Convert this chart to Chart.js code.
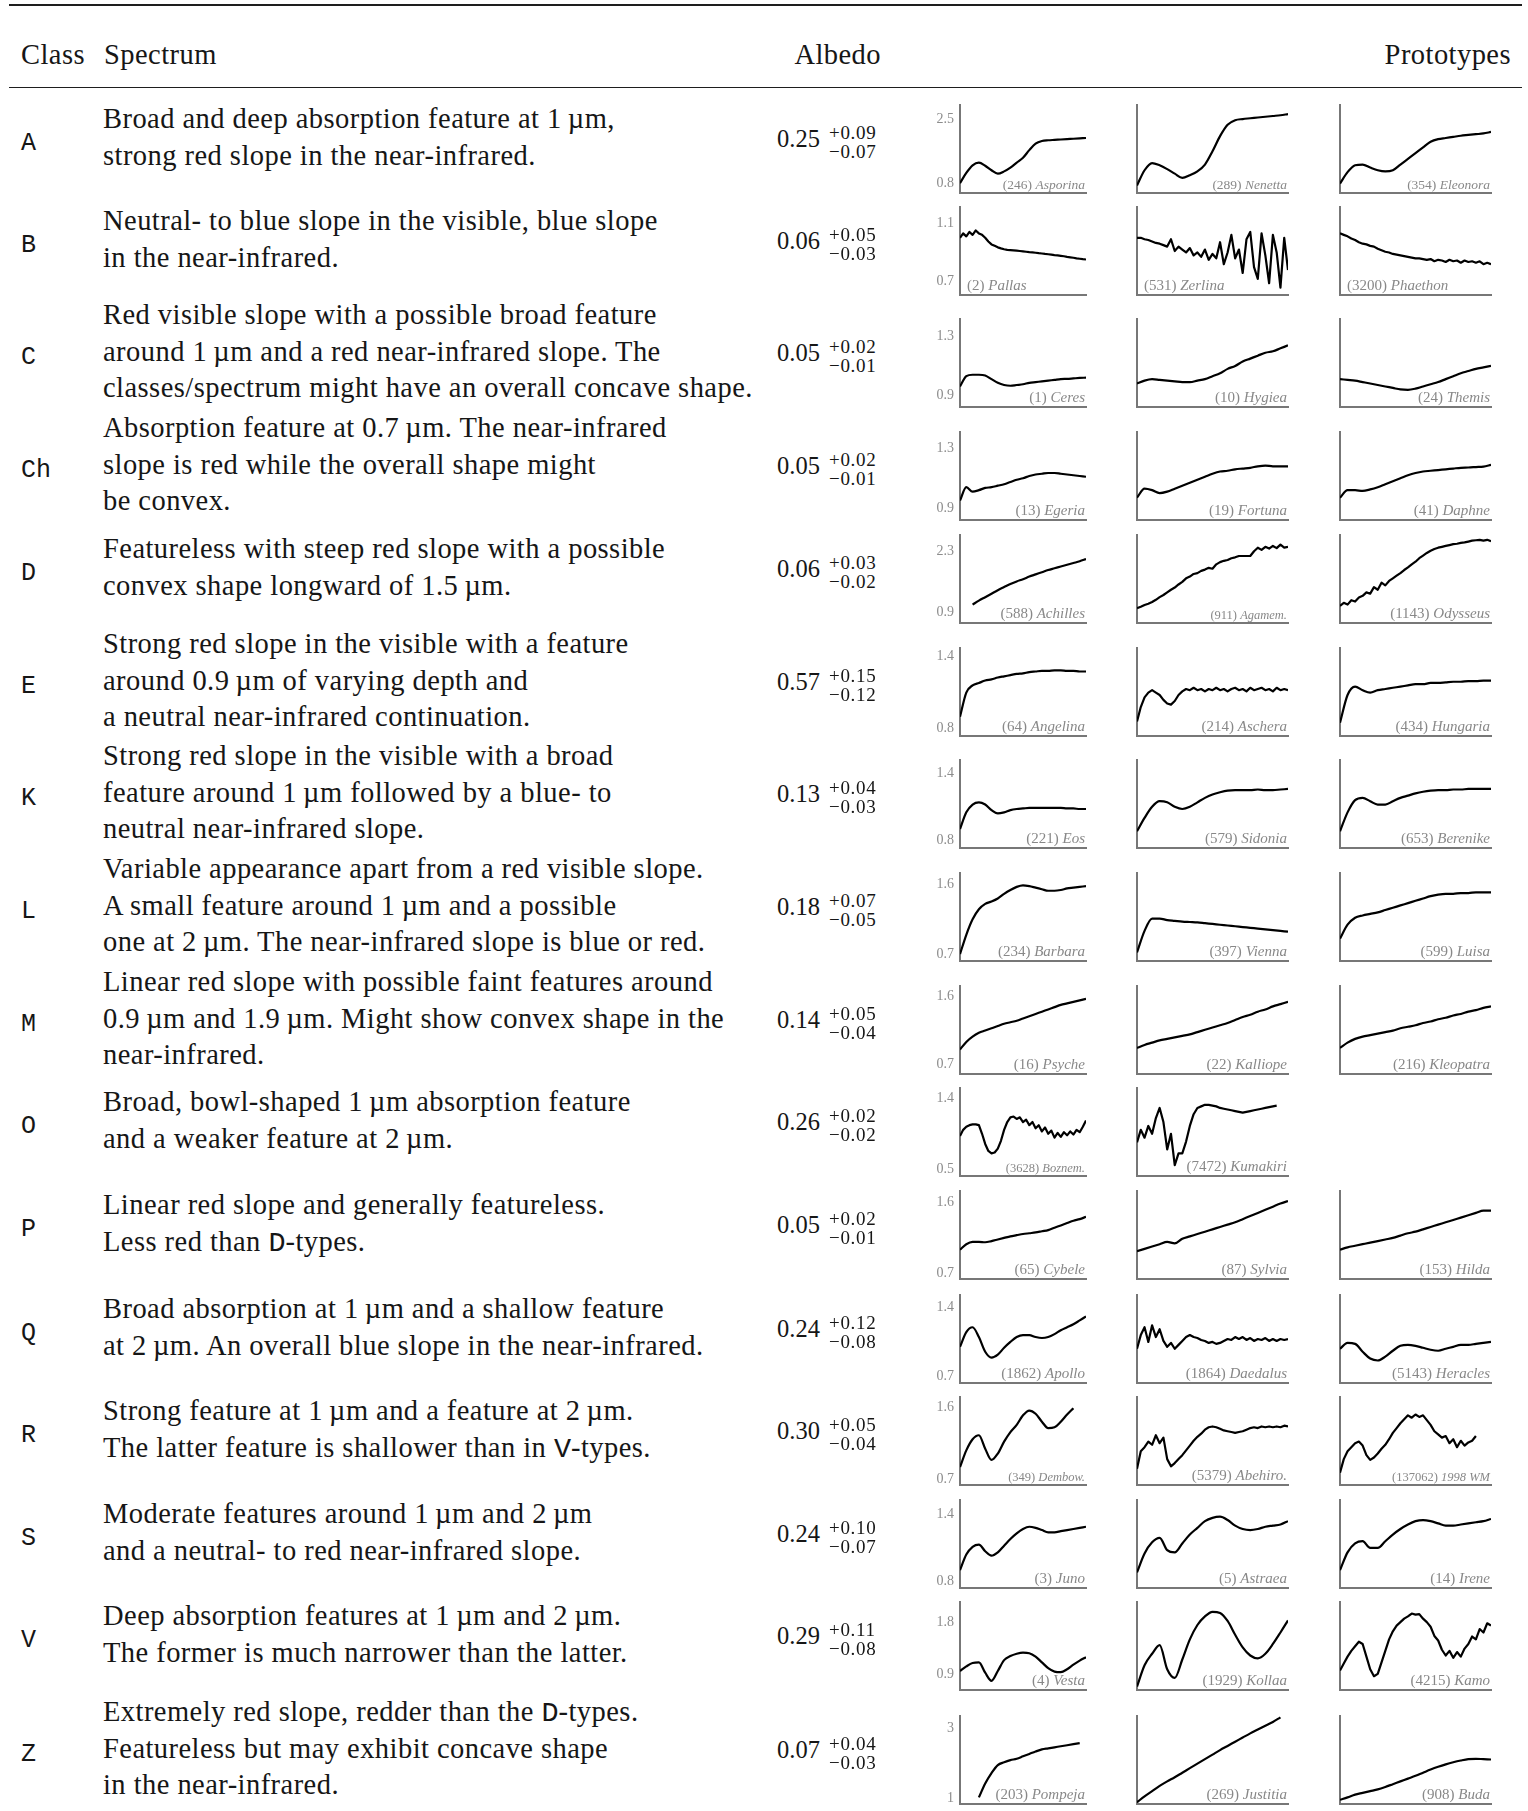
<!DOCTYPE html>
<html>
<head>
<meta charset="utf-8">
<script src="https://cdn.jsdelivr.net/npm/chart.js@4.4.1/dist/chart.umd.min.js"></script>
<style>
  body { margin: 0; background: #fff; width: 1528px; height: 1811px; position: relative; overflow: hidden;
         font-family: "Liberation Serif", serif; color: #161616; }
  .t { position: absolute; white-space: nowrap; line-height: 1; }
  .txt { letter-spacing: 0.45px; }
  .scr { letter-spacing: 0.7px; }
  .mono { font-family: "Liberation Mono", monospace; letter-spacing: 0; }
  .rule { position: absolute; left: 9px; width: 1513px; background: #1e1e1e; }
  canvas { position: absolute; }
  .nm { position: absolute; white-space: nowrap; line-height: 1; color: #888; }
</style>
</head>
<body>
<div class="rule" style="top:4px;height:2.4px"></div>
<div class="rule" style="top:87px;height:1.4px"></div>
<script>
// table content
const classNames = ['A', 'B', 'C', 'Ch', 'D', 'E', 'K', 'L', 'M', 'O', 'P', 'Q', 'R', 'S', 'V', 'Z'];
const descriptions = [
  ['Broad and deep absorption feature at 1\u2009µm,', 'strong red slope in the near-infrared.'],
  ['Neutral- to blue slope in the visible, blue slope', 'in the near-infrared.'],
  ['Red visible slope with a possible broad feature', 'around 1\u2009µm and a red near-infrared slope. The', 'classes/spectrum might have an overall concave shape.'],
  ['Absorption feature at 0.7\u2009µm. The near-infrared', 'slope is red while the overall shape might', 'be convex.'],
  ['Featureless with steep red slope with a possible', 'convex shape longward of 1.5\u2009µm.'],
  ['Strong red slope in the visible with a feature', 'around 0.9\u2009µm of varying depth and', 'a neutral near-infrared continuation.'],
  ['Strong red slope in the visible with a broad', 'feature around 1\u2009µm followed by a blue- to', 'neutral near-infrared slope.'],
  ['Variable appearance apart from a red visible slope.', 'A small feature around 1\u2009µm and a possible', 'one at 2\u2009µm. The near-infrared slope is blue or red.'],
  ['Linear red slope with possible faint features around', '0.9\u2009µm and 1.9\u2009µm. Might show convex shape in the', 'near-infrared.'],
  ['Broad, bowl-shaped 1\u2009µm absorption feature', 'and a weaker feature at 2\u2009µm.'],
  ['Linear red slope and generally featureless.', 'Less red than <span class="mono">D</span>-types.'],
  ['Broad absorption at 1\u2009µm and a shallow feature', 'at 2\u2009µm. An overall blue slope in the near-infrared.'],
  ['Strong feature at 1\u2009µm and a feature at 2\u2009µm.', 'The latter feature is shallower than in <span class="mono">V</span>-types.'],
  ['Moderate features around 1\u2009µm and 2\u2009µm', 'and a neutral- to red near-infrared slope.'],
  ['Deep absorption features at 1\u2009µm and 2\u2009µm.', 'The former is much narrower than the latter.'],
  ['Extremely red slope, redder than the <span class="mono">D</span>-types.', 'Featureless but may exhibit concave shape', 'in the near-infrared.']
];
const albedoValues = ['0.25', '0.06', '0.05', '0.05', '0.06', '0.57', '0.13', '0.18', '0.14', '0.26', '0.05', '0.24', '0.30', '0.24', '0.29', '0.07'];
const albedoPlus = ['+0.09', '+0.05', '+0.02', '+0.02', '+0.03', '+0.15', '+0.04', '+0.07', '+0.05', '+0.02', '+0.02', '+0.12', '+0.05', '+0.10', '+0.11', '+0.04'];
const albedoMinus = ['\u22120.07', '\u22120.03', '\u22120.01', '\u22120.01', '\u22120.02', '\u22120.12', '\u22120.03', '\u22120.05', '\u22120.04', '\u22120.02', '\u22120.01', '\u22120.08', '\u22120.04', '\u22120.07', '\u22120.08', '\u22120.03'];

// reflectance axes, one per row
const tickLow = [0.8, 0.7, 0.9, 0.9, 0.9, 0.8, 0.8, 0.7, 0.7, 0.5, 0.7, 0.7, 0.7, 0.8, 0.9, 1];
const tickHigh = [2.5, 1.1, 1.3, 1.3, 2.3, 1.4, 1.4, 1.6, 1.6, 1.4, 1.6, 1.4, 1.6, 1.4, 1.8, 3];
const tickLowText = ['0.8', '0.7', '0.9', '0.9', '0.9', '0.8', '0.8', '0.7', '0.7', '0.5', '0.7', '0.7', '0.7', '0.8', '0.9', '1'];
const tickHighText = ['2.5', '1.1', '1.3', '1.3', '2.3', '1.4', '1.4', '1.6', '1.6', '1.4', '1.6', '1.4', '1.6', '1.4', '1.8', '3'];
const axisMin = [0.55, 0.61, 0.82, 0.82, 0.66, 0.74, 0.73, 0.61, 0.575, 0.41, 0.625, 0.63, 0.625, 0.74, 0.62, 0.83];
const axisMax = [2.87, 1.21, 1.42, 1.41, 2.67, 1.47, 1.52, 1.75, 1.74, 1.535, 1.75, 1.53, 1.73, 1.53, 2.15, 3.36];

// wavelength grids (µm)
const waveCoarse = [0.45, 0.55, 0.65, 0.75, 0.85, 0.95, 1.05, 1.15, 1.25, 1.35, 1.45, 1.55, 1.65, 1.75, 1.85, 1.95, 2.05, 2.15, 2.25, 2.35, 2.45];
const waveFine = [0.45, 0.50, 0.55, 0.60, 0.65, 0.70, 0.75, 0.80, 0.85, 0.90, 0.95, 1.00, 1.05, 1.10, 1.15, 1.20, 1.25, 1.30, 1.35, 1.40, 1.45,
                  1.50, 1.55, 1.60, 1.65, 1.70, 1.75, 1.80, 1.85, 1.90, 1.95, 2.00, 2.05, 2.10, 2.15, 2.20, 2.25, 2.30, 2.35, 2.40, 2.45];

// spectra
const asporina = [0.81, 1.08, 1.28, 1.35, 1.27, 1.15, 1.06, 1.12, 1.22, 1.35, 1.48, 1.68, 1.85, 1.92, 1.94, 1.95, 1.96, 1.97, 1.98, 1.99, 2.0];
const nenetta = [0.75, 1.15, 1.34, 1.28, 1.18, 1.06, 0.95, 1.02, 1.12, 1.3, 1.65, 2.05, 2.35, 2.47, 2.5, 2.52, 2.54, 2.56, 2.58, 2.6, 2.63];
const eleonora = [0.8, 1.1, 1.28, 1.3, 1.22, 1.15, 1.12, 1.15, 1.3, 1.45, 1.6, 1.75, 1.9, 1.97, 2.0, 2.03, 2.06, 2.08, 2.1, 2.12, 2.16];
const pallas = [1.0, 1.03, 1.01, 1.04, 1.02, 1.05, 1.03, 1.02, 1.0, 0.975, 0.955, 0.945, 0.935, 0.928, 0.922, 0.918, 0.916, 0.914, 0.912, 0.91, 0.908,
                0.905, 0.902, 0.9, 0.898, 0.895, 0.893, 0.89, 0.888, 0.885, 0.882, 0.88, 0.877, 0.874, 0.87, 0.867, 0.864, 0.86, 0.857, 0.854, 0.852];
const zerlina = [1.0, 1.0, 0.99, 0.985, 0.975, 0.965, 0.96, 0.95, 0.94, 0.99, 0.91, 0.94, 0.92, 0.9, 0.93, 0.88, 0.9, 0.87, 0.92, 0.85, 0.89,
                 0.86, 0.97, 0.82, 0.9, 1.02, 0.86, 0.92, 0.76, 0.99, 1.04, 0.8, 0.72, 1.03, 0.88, 0.69, 1.02, 0.9, 0.66, 1.0, 0.78];
const phaethon = [1.03, 1.02, 1.01, 0.995, 0.985, 0.97, 0.96, 0.955, 0.945, 0.94, 0.925, 0.915, 0.905, 0.9, 0.89, 0.885, 0.88, 0.875, 0.87, 0.865, 0.86,
                  0.86, 0.855, 0.85, 0.855, 0.84, 0.85, 0.845, 0.835, 0.85, 0.84, 0.845, 0.83, 0.845, 0.835, 0.84, 0.83, 0.84, 0.82, 0.83, 0.82];
const ceres = [0.96, 1.03, 1.04, 1.04, 1.035, 1.01, 0.985, 0.97, 0.965, 0.97, 0.975, 0.985, 0.99, 0.995, 1.0, 1.005, 1.01, 1.012, 1.015, 1.018, 1.02];
const hygiea = [0.98, 1.0, 1.01, 1.005, 1.0, 0.995, 0.99, 0.99, 1.0, 1.01, 1.03, 1.05, 1.08, 1.1, 1.13, 1.15, 1.17, 1.19, 1.2, 1.22, 1.24];
const themis = [1.01, 1.005, 1.0, 0.99, 0.98, 0.97, 0.96, 0.95, 0.94, 0.937, 0.945, 0.96, 0.975, 0.99, 1.01, 1.03, 1.05, 1.065, 1.08, 1.09, 1.1];
const egeria = [0.95, 1.04, 1.01, 1.02, 1.035, 1.04, 1.05, 1.06, 1.075, 1.09, 1.1, 1.115, 1.125, 1.13, 1.135, 1.135, 1.13, 1.125, 1.12, 1.115, 1.11];
const fortuna = [0.97, 1.03, 1.02, 1.0, 1.01, 1.03, 1.05, 1.07, 1.09, 1.11, 1.13, 1.145, 1.15, 1.16, 1.165, 1.17, 1.18, 1.185, 1.18, 1.18, 1.18];
const daphne = [0.97, 1.02, 1.02, 1.015, 1.025, 1.04, 1.06, 1.08, 1.1, 1.12, 1.135, 1.145, 1.15, 1.155, 1.16, 1.165, 1.17, 1.172, 1.175, 1.178, 1.19];
const achilles = [null, null, 1.08, 1.17, 1.25, 1.33, 1.41, 1.48, 1.55, 1.61, 1.66, 1.72, 1.77, 1.82, 1.87, 1.91, 1.95, 1.99, 2.03, 2.07, 2.12];
const agamemnon = [1.0, 1.03, 1.07, 1.1, 1.14, 1.19, 1.25, 1.3, 1.36, 1.42, 1.47, 1.54, 1.6, 1.68, 1.72, 1.78, 1.8, 1.85, 1.88, 1.92, 1.9,
                   2.0, 2.05, 2.08, 2.1, 2.14, 2.16, 2.19, 2.19, 2.19, 2.19, 2.3, 2.38, 2.33, 2.4, 2.36, 2.42, 2.37, 2.45, 2.38, 2.4];
const odysseus = [1.05, 1.12, 1.08, 1.18, 1.15, 1.24, 1.28, 1.36, 1.33, 1.48, 1.42, 1.58, 1.52, 1.62, 1.68, 1.74, 1.8, 1.87, 1.93, 2.0, 2.06,
                  2.14, 2.2, 2.26, 2.31, 2.35, 2.38, 2.4, 2.42, 2.44, 2.46, 2.47, 2.49, 2.5, 2.52, 2.54, 2.55, 2.56, 2.54, 2.56, 2.53];
const angelina = [0.9, 1.1, 1.16, 1.18, 1.2, 1.21, 1.225, 1.235, 1.245, 1.255, 1.26, 1.27, 1.275, 1.28, 1.28, 1.285, 1.285, 1.28, 1.28, 1.275, 1.275];
const aschera = [0.86, 0.98, 1.06, 1.1, 1.12, 1.1, 1.08, 1.04, 1.01, 1.0, 1.03, 1.08, 1.11, 1.13, 1.12, 1.14, 1.12, 1.13, 1.11, 1.13, 1.12,
                 1.14, 1.12, 1.13, 1.11, 1.13, 1.14, 1.12, 1.13, 1.11, 1.14, 1.12, 1.13, 1.14, 1.12, 1.13, 1.11, 1.14, 1.12, 1.13, 1.12];
const hungaria = [0.85, 1.08, 1.15, 1.12, 1.1, 1.12, 1.13, 1.14, 1.15, 1.16, 1.17, 1.17, 1.18, 1.18, 1.185, 1.19, 1.19, 1.195, 1.195, 1.2, 1.2];
const eos = [0.9, 1.05, 1.12, 1.14, 1.12, 1.07, 1.04, 1.05, 1.07, 1.08, 1.085, 1.09, 1.09, 1.09, 1.09, 1.09, 1.09, 1.085, 1.085, 1.08, 1.08];
const sidonia = [0.88, 1.0, 1.1, 1.15, 1.14, 1.1, 1.08, 1.1, 1.14, 1.18, 1.21, 1.23, 1.245, 1.25, 1.25, 1.25, 1.255, 1.25, 1.25, 1.255, 1.26];
const berenike = [0.88, 1.05, 1.16, 1.18, 1.15, 1.12, 1.12, 1.15, 1.18, 1.2, 1.22, 1.235, 1.245, 1.25, 1.25, 1.255, 1.255, 1.26, 1.26, 1.26, 1.26];
const barbara = [0.7, 0.95, 1.15, 1.28, 1.35, 1.38, 1.42, 1.48, 1.53, 1.57, 1.59, 1.58, 1.56, 1.54, 1.52, 1.52, 1.53, 1.55, 1.56, 1.57, 1.58];
const vienna = [0.72, 1.0, 1.16, 1.16, 1.14, 1.13, 1.12, 1.115, 1.11, 1.1, 1.09, 1.08, 1.07, 1.06, 1.05, 1.04, 1.03, 1.02, 1.01, 1.0, 0.99];
const luisa = [0.9, 1.08, 1.17, 1.2, 1.22, 1.24, 1.27, 1.3, 1.33, 1.36, 1.39, 1.42, 1.45, 1.47, 1.48, 1.48, 1.49, 1.49, 1.5, 1.5, 1.5];
const psyche = [0.9, 1.0, 1.07, 1.12, 1.15, 1.18, 1.21, 1.24, 1.26, 1.28, 1.31, 1.34, 1.37, 1.4, 1.43, 1.46, 1.49, 1.51, 1.53, 1.55, 1.57];
const kalliope = [0.92, 0.96, 0.99, 1.02, 1.04, 1.06, 1.08, 1.1, 1.13, 1.16, 1.19, 1.22, 1.25, 1.29, 1.33, 1.36, 1.4, 1.43, 1.47, 1.5, 1.53];
const kleopatra = [0.92, 0.99, 1.04, 1.07, 1.09, 1.11, 1.13, 1.15, 1.18, 1.2, 1.22, 1.25, 1.27, 1.3, 1.32, 1.35, 1.37, 1.4, 1.42, 1.45, 1.47];
const boznemcova = [0.92, 1.0, 1.04, 1.06, 1.07, 1.07, 1.06, 0.95, 0.82, 0.73, 0.7, 0.71, 0.76, 0.86, 1.0, 1.1, 1.16, 1.17, 1.14, 1.16, 1.1,
                    1.13, 1.06, 1.1, 1.02, 1.06, 0.98, 1.03, 0.95, 0.99, 0.9, 0.96, 0.91, 0.97, 0.93, 0.98, 0.94, 1.0, 0.97, 1.04, 1.12];
const kumakiri = [0.84, 1.0, 0.9, 1.05, 0.95, 1.15, 1.28, 1.1, 0.75, 0.95, 0.55, 0.7, 0.7, 0.85, 1.05, 1.2, 1.28, 1.3, 1.32, 1.32, 1.31,
                  1.3, 1.28, 1.27, 1.26, 1.25, 1.24, 1.23, 1.22, 1.23, 1.24, 1.25, 1.26, 1.27, 1.28, 1.29, 1.3, 1.31, null, null, null];
const cybele = [1.0, 1.07, 1.1, 1.1, 1.095, 1.11, 1.13, 1.15, 1.17, 1.185, 1.2, 1.21, 1.22, 1.235, 1.25, 1.28, 1.31, 1.34, 1.37, 1.39, 1.42];
const sylvia = [0.98, 1.01, 1.04, 1.07, 1.1, 1.08, 1.14, 1.17, 1.2, 1.23, 1.26, 1.29, 1.32, 1.35, 1.39, 1.43, 1.47, 1.51, 1.55, 1.59, 1.62];
const hilda = [1.0, 1.03, 1.05, 1.07, 1.09, 1.11, 1.13, 1.15, 1.18, 1.21, 1.23, 1.26, 1.29, 1.32, 1.35, 1.38, 1.41, 1.44, 1.47, 1.5, 1.5];
const apollo = [1.0, 1.15, 1.2, 1.1, 0.95, 0.89, 0.92, 0.99, 1.05, 1.1, 1.12, 1.12, 1.1, 1.09, 1.1, 1.13, 1.17, 1.2, 1.23, 1.27, 1.31];
const daedalus = [0.98, 1.12, 1.2, 1.05, 1.22, 1.1, 1.18, 1.06, 1.0, 1.04, 0.98, 1.02, 1.06, 1.1, 1.12, 1.1, 1.09, 1.07, 1.06, 1.04, 1.05,
                  1.03, 1.04, 1.06, 1.08, 1.07, 1.1, 1.08, 1.1, 1.07, 1.09, 1.06, 1.08, 1.07, 1.09, 1.06, 1.08, 1.06, 1.08, 1.07, 1.08];
const heracles = [0.98, 1.04, 1.03, 0.95, 0.88, 0.86, 0.9, 0.96, 1.01, 1.02, 1.01, 0.99, 0.97, 0.96, 0.98, 1.0, 1.02, 1.02, 1.03, 1.04, 1.05];
const dembowska = [0.85, 1.06, 1.2, 1.25, 1.08, 0.94, 1.02, 1.17, 1.29, 1.38, 1.5, 1.56, 1.52, 1.42, 1.34, 1.35, 1.42, 1.51, 1.59, null, null];
const abehiro = [0.83, 1.05, 1.1, 1.17, 1.13, 1.25, 1.15, 1.22, 0.95, 0.86, 0.9, 0.95, 1.0, 1.06, 1.12, 1.18, 1.23, 1.27, 1.32, 1.35, 1.36,
                 1.35, 1.33, 1.31, 1.3, 1.29, 1.28, 1.29, 1.3, 1.32, 1.34, 1.35, 1.34, 1.36, 1.35, 1.36, 1.35, 1.36, 1.35, 1.37, 1.36];
const wm1998 = [0.78, 0.95, 1.05, 1.1, 1.15, 1.17, 1.12, 1.0, 0.94, 0.97, 1.02, 1.08, 1.13, 1.2, 1.28, 1.34, 1.4, 1.45, 1.5, 1.47, 1.51,
                1.48, 1.5, 1.44, 1.38, 1.3, 1.26, 1.22, 1.24, 1.15, 1.2, 1.1, 1.18, 1.12, 1.16, 1.18, 1.24, null, null, null, null];
const juno = [0.9, 1.04, 1.11, 1.13, 1.07, 1.03, 1.06, 1.12, 1.18, 1.23, 1.27, 1.29, 1.28, 1.26, 1.24, 1.24, 1.25, 1.26, 1.27, 1.28, 1.29];
const astraea = [0.88, 1.05, 1.15, 1.19, 1.08, 1.06, 1.14, 1.22, 1.28, 1.34, 1.37, 1.38, 1.35, 1.3, 1.27, 1.26, 1.27, 1.29, 1.3, 1.31, 1.34];
const irene = [0.9, 1.06, 1.14, 1.16, 1.1, 1.1, 1.16, 1.22, 1.27, 1.31, 1.34, 1.35, 1.34, 1.32, 1.3, 1.3, 1.31, 1.32, 1.33, 1.34, 1.36];
const vesta = [0.95, 1.03, 1.09, 1.1, 0.92, 0.78, 0.95, 1.14, 1.21, 1.25, 1.27, 1.26, 1.2, 1.1, 1.0, 0.94, 0.93, 0.98, 1.06, 1.13, 1.19];
const kollaa = [0.68, 1.05, 1.25, 1.4, 0.98, 0.83, 1.15, 1.5, 1.75, 1.9, 1.98, 1.96, 1.82, 1.58, 1.36, 1.22, 1.17, 1.25, 1.42, 1.62, 1.83];
const kamo = [0.96, 1.08, 1.2, 1.3, 1.38, 1.46, 1.42, 1.2, 0.98, 0.86, 0.9, 1.1, 1.3, 1.5, 1.64, 1.74, 1.8, 1.86, 1.9, 1.95, 1.93,
              1.94, 1.86, 1.8, 1.72, 1.56, 1.48, 1.32, 1.22, 1.3, 1.18, 1.28, 1.2, 1.34, 1.42, 1.55, 1.5, 1.68, 1.62, 1.78, 1.74];
const pompeja = [null, null, null, 1.02, 1.42, 1.72, 1.95, 2.03, 2.09, 2.13, 2.2, 2.27, 2.34, 2.4, 2.43, 2.46, 2.49, 2.52, 2.55, 2.58, null];
const justitia = [0.88, 1.05, 1.2, 1.35, 1.48, 1.6, 1.73, 1.86, 1.99, 2.12, 2.25, 2.38, 2.5, 2.62, 2.74, 2.86, 2.97, 3.08, 3.19, 3.32, null];
const buda = [0.95, 1.02, 1.1, 1.15, 1.2, 1.25, 1.32, 1.4, 1.48, 1.56, 1.64, 1.73, 1.82, 1.9, 1.97, 2.03, 2.08, 2.12, 2.13, 2.12, 2.11];

const protoNumbers = [
  ['246', '289', '354'], ['2', '531', '3200'], ['1', '10', '24'], ['13', '19', '41'], ['588', '911', '1143'], ['64', '214', '434'],
  ['221', '579', '653'], ['234', '397', '599'], ['16', '22', '216'], ['3628', '7472'], ['65', '87', '153'], ['1862', '1864', '5143'],
  ['349', '5379', '137062'], ['3', '5', '14'], ['4', '1929', '4215'], ['203', '269', '908']
];
const protoNames = [
  ['Asporina', 'Nenetta', 'Eleonora'], ['Pallas', 'Zerlina', 'Phaethon'], ['Ceres', 'Hygiea', 'Themis'], ['Egeria', 'Fortuna', 'Daphne'],
  ['Achilles', 'Agamem.', 'Odysseus'], ['Angelina', 'Aschera', 'Hungaria'], ['Eos', 'Sidonia', 'Berenike'], ['Barbara', 'Vienna', 'Luisa'],
  ['Psyche', 'Kalliope', 'Kleopatra'], ['Boznem.', 'Kumakiri'], ['Cybele', 'Sylvia', 'Hilda'], ['Apollo', 'Daedalus', 'Heracles'],
  ['Dembow.', 'Abehiro.', '1998 WM'], ['Juno', 'Astraea', 'Irene'], ['Vesta', 'Kollaa', 'Kamo'], ['Pompeja', 'Justitia', 'Buda']
];
const protoSpectra = [
  [asporina, nenetta, eleonora], [pallas, zerlina, phaethon], [ceres, hygiea, themis], [egeria, fortuna, daphne],
  [achilles, agamemnon, odysseus], [angelina, aschera, hungaria], [eos, sidonia, berenike], [barbara, vienna, luisa],
  [psyche, kalliope, kleopatra], [boznemcova, kumakiri], [cybele, sylvia, hilda], [apollo, daedalus, heracles],
  [dembowska, abehiro, wm1998], [juno, astraea, irene], [vesta, kollaa, kamo], [pompeja, justitia, buda]
];

// layout
const rowCenter = [142, 244, 356, 469, 572, 685, 797, 910, 1023, 1125, 1228, 1332, 1434, 1537, 1639, 1753];
const colPlotLeft = [960, 1137, 1340];
const colPlotWidth = [126, 151, 151];
const plotHeight = 88;
const tinyLabels = ['Agamem.', 'Boznem.', 'Dembow.', '1998 WM'];
const labelLeftRows = ['B'];

function put(html, x, base, size, cls, alignRight) {
  var d = document.createElement('div');
  d.className = 't' + (cls ? ' ' + cls : '');
  d.innerHTML = html;
  d.style.fontSize = size + 'px';
  var asc = (cls && cls.indexOf('mono') >= 0) ? 0.7665 : 0.8375;
  d.style.top = (base - asc * size) + 'px';
  if (alignRight) d.style.right = (1528 - x) + 'px';
  else d.style.left = x + 'px';
  document.body.appendChild(d);
  return d;
}

// header
put('Class', 21, 65, 28.5, 'txt');
put('Spectrum', 104, 65, 28.5, 'txt');
put('Albedo', 881, 65, 28.5, 'txt', true);
put('Prototypes', 1511, 65, 28.5, 'txt', true);

Chart.defaults.font.family = '"Liberation Serif", serif';

function drawSpectrum(r, j) {
  var values = protoSpectra[r][j];
  var fine = values.length === waveFine.length;
  var waves = fine ? waveFine : waveCoarse;
  var pts = waves.map(function (w, i) { return { x: w, y: values[i] }; });
  var first = j === 0;
  var gutter = first ? 36 : 0;
  var plotTop = rowCenter[r] - 37;
  var cv = document.createElement('canvas');
  var w = colPlotWidth[j] + gutter + 4, h = plotHeight + 4;
  cv.width = w; cv.height = h;
  cv.style.width = w + 'px'; cv.style.height = h + 'px';
  cv.style.left = (colPlotLeft[j] - gutter - 2) + 'px';
  cv.style.top = (plotTop - 2) + 'px';
  document.body.appendChild(cv);

  new Chart(cv, {
    type: 'line',
    data: {
      datasets: [{
        data: pts,
        borderColor: '#000',
        borderWidth: 2.2,
        pointRadius: 0,
        // noisy spectra keep straight segments, smooth ones get a monotone curve
        cubicInterpolationMode: fine ? 'default' : 'monotone',
        tension: 0,
        borderJoinStyle: 'round',
        spanGaps: false
      }]
    },
    options: {
      responsive: false,
      animation: false,
      events: [],
      layout: { padding: { left: 2, right: 2, top: 2, bottom: 2 } },
      plugins: { legend: { display: false }, tooltip: { enabled: false } },
      scales: {
        x: {
          type: 'linear', min: 0.45, max: 2.45,
          ticks: { display: false },
          grid: { display: false, drawTicks: false },
          border: { display: true, color: '#777', width: 2 },
          afterFit: function (s) { s.height = 0; s.paddingLeft = 0; s.paddingRight = 0; }
        },
        y: {
          type: 'linear', min: axisMin[r], max: axisMax[r],
          ticks: {
            display: first, color: '#8c8c8c', padding: 6,
            font: { family: '"Liberation Serif", serif', size: 14 },
            callback: function (v, i) { return i === 0 ? tickLowText[r] : tickHighText[r]; }
          },
          afterBuildTicks: function (s) { s.ticks = [{ value: tickLow[r] }, { value: tickHigh[r] }]; },
          grid: { display: false, drawTicks: false },
          border: { display: true, color: '#777', width: 2 },
          afterFit: function (s) { s.width = gutter; s.paddingTop = 0; s.paddingBottom = 0; }
        }
      }
    }
  });

  // asteroid label in a lower corner
  var name = protoNames[r][j];
  var size = tinyLabels.indexOf(name) >= 0 ? 12.5 : (r === 0 ? 13.5 : 15);
  var lab = document.createElement('div');
  lab.className = 'nm';
  lab.innerHTML = '(' + protoNumbers[r][j] + ') <i>' + name + '</i>';
  lab.style.fontSize = size + 'px';
  if (labelLeftRows.indexOf(classNames[r]) >= 0) lab.style.left = (colPlotLeft[j] + 7) + 'px';
  else lab.style.right = (1528 - (colPlotLeft[j] + colPlotWidth[j] - 1)) + 'px';
  lab.style.top = (plotTop + plotHeight - 4 - 0.8375 * size) + 'px';
  document.body.appendChild(lab);
}

classNames.forEach(function (cls, r) {
  var c = rowCenter[r];
  put(cls, 21, c + 8, 25, 'mono');
  var lines = descriptions[r];
  lines.forEach(function (line, k) {
    put(line, 103, c + 5.5 + (k - (lines.length - 1) / 2) * 36.5, 28.5, 'txt');
  });
  put(albedoValues[r], 777, c + 6, 24.5);
  put(albedoPlus[r], 829, c - 3, 19, 'scr');
  put(albedoMinus[r], 829, c + 16, 19, 'scr');
  protoSpectra[r].forEach(function (s, j) { drawSpectrum(r, j); });
});
</script>
</body>
</html>
